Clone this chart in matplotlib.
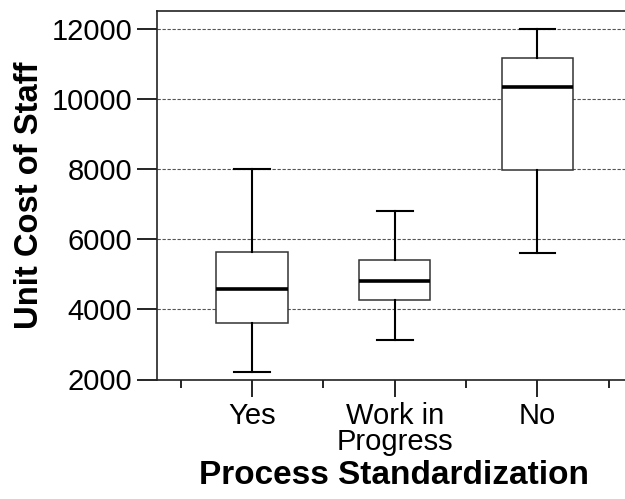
import matplotlib
matplotlib.use("Agg")
import matplotlib.pyplot as plt

plt.rcParams['font.family'] = ['Liberation Sans', 'DejaVu Sans']

categories = ["Yes", "Work in\nProgress", "No"]
whisker_low = [2210, 3120, 5600]
q1 = [3600, 4280, 7990]
medians = [4580, 4800, 10350]
q3 = [5630, 5400, 11180]
whisker_high = [8000, 6800, 12000]
y_ticks = [2000, 4000, 6000, 8000, 10000, 12000]

fig = plt.figure(figsize=(6.25, 4.99), dpi=100)
ax = fig.add_axes([157/625, 1-379.5/499, 475.5/625, (379.5-10.7)/499])

stats = []
for i, c in enumerate(categories):
    stats.append(dict(label=c, whislo=whisker_low[i], q1=q1[i], med=medians[i],
                      q3=q3[i], whishi=whisker_high[i], fliers=[]))

ax.bxp(stats, positions=[1, 2, 3], widths=0.5, capwidths=0.25, showfliers=False,
       patch_artist=True,
       boxprops=dict(facecolor='white', edgecolor='#333333', linewidth=1.1),
       medianprops=dict(color='black', linewidth=2.6),
       whiskerprops=dict(color='black', linewidth=1.5),
       capprops=dict(color='black', linewidth=1.5), zorder=3)

ax.set_xlim(0.334, 3.666)
ax.set_ylim(2000, 12530)
ax.set_yticks(y_ticks)
ax.set_yticklabels([str(v) for v in y_ticks], fontsize=21)
ax.set_xticks([1, 2, 3])
ax.set_xticklabels(categories, fontsize=21, linespacing=0.9)
ax.set_xticks([0.5, 1.5, 2.5, 3.5], minor=True)
ax.tick_params(axis='y', which='major', length=14.4, width=1.2, pad=3.6, direction='out')
ax.tick_params(axis='x', which='major', length=12.2, width=1.2, pad=4.0, direction='out')
ax.tick_params(axis='x', which='minor', length=5.8, width=1.2, direction='out')

ax.yaxis.grid(True, linestyle=(0, (3, 1.5)), color='#555555', linewidth=0.8, zorder=0)
ax.set_axisbelow(True)
for s in ['left', 'top', 'bottom', 'right']:
    ax.spines[s].set_linewidth(1.2)
    ax.spines[s].set_color('#222222')

fig.text(30/625, 1-195/499, "Unit Cost of Staff", rotation=90, ha='center', va='center',
         fontsize=23.6, fontweight='bold')
fig.text(394/625, 1-476/499, "Process Standardization", ha='center', va='center',
         fontsize=24, fontweight='bold')

fig.savefig("out.png", dpi=100)
